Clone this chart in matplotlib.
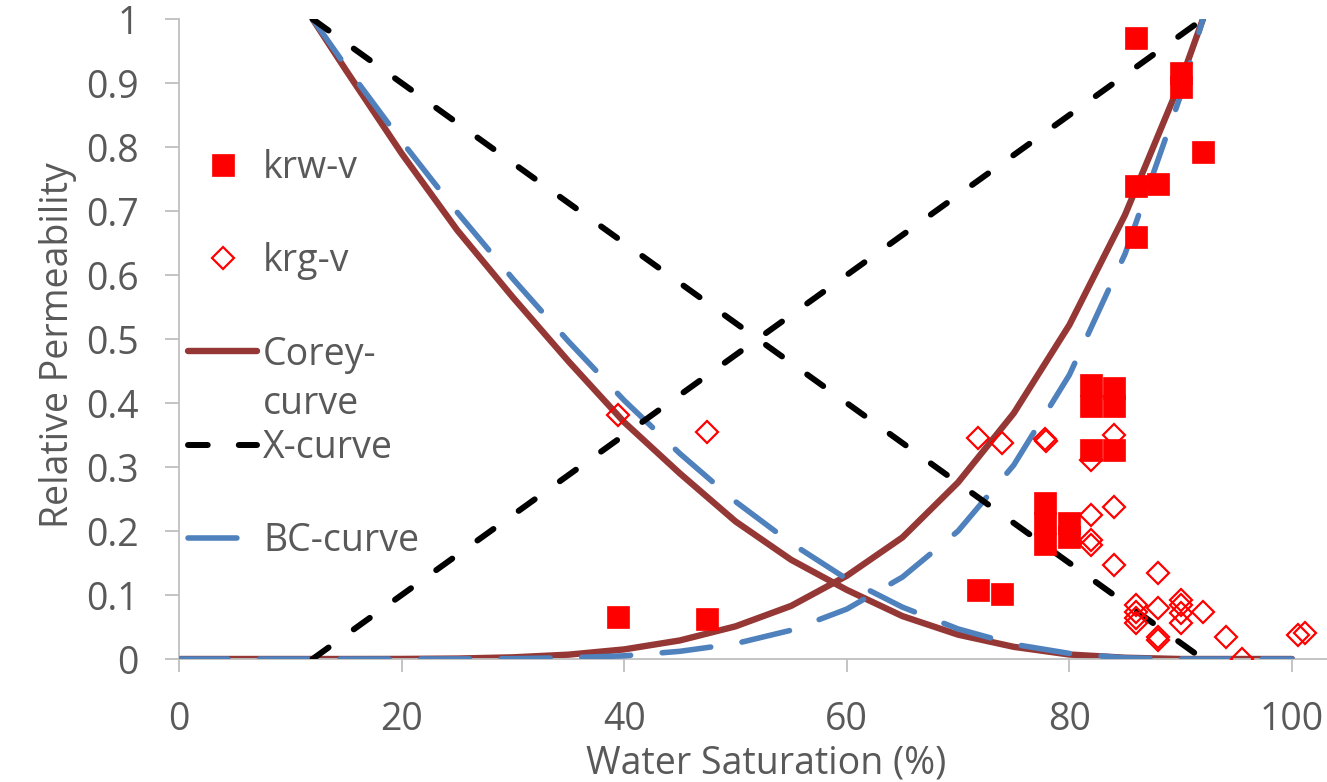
import matplotlib
matplotlib.use("Agg")
import matplotlib.pyplot as plt

# ---------------- data ----------------
# measured points
krw_sw = [39.4, 47.4, 71.8, 73.9, 77.8, 77.8, 77.8, 80.0, 80.0,
          81.9, 81.9, 84.0, 84.0, 81.9, 84.0,
          86.0, 90.0, 90.0, 92.0, 86.0, 88.0, 86.0]
krw_val = [0.066, 0.0625, 0.108, 0.102, 0.244, 0.212, 0.18, 0.2125, 0.19,
           0.428, 0.395, 0.423, 0.395, 0.327, 0.327,
           0.970, 0.916, 0.894, 0.792, 0.739, 0.742, 0.659]

krg_sw = [39.4, 47.4, 71.8, 73.9, 77.8, 77.9, 84.0, 81.9, 81.9, 84.0,
          81.9, 81.9, 84.0, 88.0, 86.0, 86.0, 86.0, 86.0, 88.0, 88.0, 88.0,
          90.0, 90.0, 90.0, 90.0, 92.0, 94.1, 95.5, 100.5, 101.2]
krg_val = [0.381, 0.355, 0.345, 0.3375, 0.344, 0.341, 0.35, 0.311, 0.225, 0.2375,
           0.186, 0.178, 0.147, 0.134, 0.084, 0.073, 0.064, 0.056, 0.08, 0.034, 0.03,
           0.092, 0.084, 0.072, 0.056, 0.073, 0.034, 0.0, 0.0375, 0.041]

# model curves
sw_w = [0, 5, 10, 12, 15, 20, 25, 30, 35, 40, 45, 50, 55, 60, 65, 70, 75, 80, 85, 90, 92]
corey_krw = [0, 0, 0, 0, 0.0, 0.0001, 0.0007, 0.0026, 0.0068, 0.015, 0.029, 0.051,
             0.083, 0.13, 0.19, 0.276, 0.384, 0.522, 0.694, 0.903, 1.0]
bc_krw = [0, 0, 0, 0, 0.0, 0.0, 0.0001, 0.0005, 0.002, 0.005, 0.012, 0.024,
          0.045, 0.078, 0.128, 0.200, 0.303, 0.444, 0.633, 0.881, 1.0]

sw_g = [12, 15, 20, 25, 30, 35, 40, 45, 50, 55, 60, 65, 70, 75, 80, 85, 90, 92, 95, 100]
corey_krg = [1.0, 0.92, 0.79, 0.67, 0.565, 0.465, 0.37, 0.29, 0.215, 0.155, 0.108,
             0.067, 0.038, 0.019, 0.007, 0.002, 0.0, 0.0, 0.0, 0.0]
bc_krg = [1.0, 0.926, 0.809, 0.698, 0.594, 0.496, 0.404, 0.321, 0.246, 0.181, 0.125,
          0.081, 0.047, 0.023, 0.0087, 0.0018, 0.0, 0.0, 0.0, 0.0]

x_sw = [12, 92]
x_krw = [0.0, 1.0]
x_krg = [1.0, 0.0]

x_ticks = [0, 20, 40, 60, 80, 100]
y_ticks = [0, 0.1, 0.2, 0.3, 0.4, 0.5, 0.6, 0.7, 0.8, 0.9, 1]
y_ticklabels = ["0", "0.1", "0.2", "0.3", "0.4", "0.5", "0.6", "0.7", "0.8", "0.9", "1"]

legend_labels = ["krw-v", "krg-v", "Corey-", "X-curve", "BC-curve"]
corey_second_line = "curve"

# ---------------- style ----------------
FONT = "Open Sans"
TXT = "#595959"
AXC = "#BFBFBF"
RED = "#FF0000"
COREY = "#953735"
BLUE = "#4F81BD"

W, H = 1327, 782
fig = plt.figure(figsize=(W / 100, H / 100), dpi=100)
ax = fig.add_axes([179 / W, 1 - 659 / H, 1 - 179 / W, (659 - 19) / H])

lw_c = 4.6
lw_b = 4.0
lw_k = 4.3

corey_l, = ax.plot(sw_w, corey_krw, color=COREY, lw=lw_c, solid_capstyle="round", zorder=2)
ax.plot(sw_g, corey_krg, color=COREY, lw=lw_c, solid_capstyle="round", zorder=2)

blue_ls = (0, (8.8, 5.7))
bc_l, = ax.plot(sw_w, bc_krw, color=BLUE, lw=lw_b, ls=blue_ls, dash_capstyle="round", zorder=3)
ax.plot(sw_g, bc_krg, color=BLUE, lw=lw_b, ls=blue_ls, dash_capstyle="round", zorder=3)

black_ls = (0, (3.3, 5.2))
x_l, = ax.plot(x_sw, x_krw, color="black", lw=lw_k, ls=black_ls, dash_capstyle="round", zorder=4)
ax.plot(x_sw, x_krg, color="black", lw=lw_k, ls=black_ls, dash_capstyle="round", zorder=4)

krw_h, = ax.plot(krw_sw, krw_val, ls="none", marker="s", ms=16.5, mfc=RED, mec=RED,
                 mew=0.5, zorder=5)
krg_h, = ax.plot(krg_sw, krg_val, ls="none", marker="D", ms=11.0, mfc="none", mec=RED,
                 mew=1.6, zorder=6)

ax.set_xlim(0, (1327 - 179) / 11.13)
ax.set_ylim(0, 1)
for s in ("top", "right"):
    ax.spines[s].set_visible(False)
for s in ("left", "bottom"):
    ax.spines[s].set_color(AXC)
    ax.spines[s].set_linewidth(1.3)

ax.set_xticks(x_ticks)
ax.set_xticklabels([str(t) for t in x_ticks])
ax.set_yticks(y_ticks)
ax.set_yticklabels(y_ticklabels)
ax.tick_params(axis="x", direction="out", length=9, width=1.3, color=AXC, pad=21,
               labelsize=27, labelcolor=TXT)
ax.tick_params(axis="y", direction="out", length=10, width=1.3, color=AXC, pad=19,
               labelsize=27, labelcolor=TXT)
for lab in ax.get_xticklabels() + ax.get_yticklabels():
    lab.set_fontfamily(FONT)

ax.set_xlabel("Water Saturation (%)", fontsize=27, color=TXT, family=FONT)
ax.set_ylabel("Relative Permeability", fontsize=27, color=TXT, family=FONT)
ax.xaxis.set_label_coords(0.511, -0.134)
ax.yaxis.set_label_coords(-0.089, 0.49)

handles = [krw_h, krg_h, corey_l, x_l, bc_l]
leg = ax.legend(handles, legend_labels, loc="center left",
                bbox_to_anchor=(188 / W, 1 - 354.5 / H), bbox_transform=fig.transFigure,
                frameon=False, borderpad=0, borderaxespad=0, handlelength=1.85,
                handletextpad=0.15, labelspacing=1.47,
                prop={"family": FONT, "size": 27})
for t in leg.get_texts():
    t.set_color(TXT)

fig.canvas.draw()
r = fig.canvas.get_renderer()
bb = leg.get_texts()[2].get_window_extent(r)
fig.text(bb.x0 / W, (bb.y0 - 50) / H, corey_second_line, fontsize=27,
         color=TXT, family=FONT, ha="left", va="bottom")

fig.savefig("out.png", dpi=100)
